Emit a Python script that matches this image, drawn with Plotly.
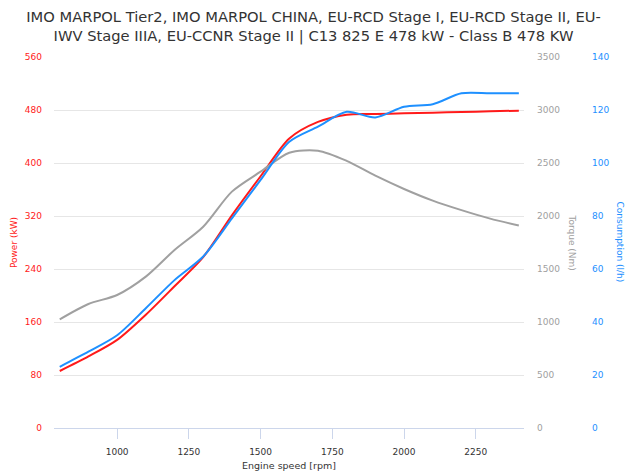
import plotly.graph_objects as go

rpm = [800, 900, 1000, 1100, 1200, 1300, 1400, 1500, 1600, 1700, 1800, 1900, 2000, 2100, 2200, 2300, 2400]
power_kw = [86, 108, 133, 171, 214, 258, 321, 380, 437, 462, 473, 474, 475, 476, 477, 478, 479]
torque_nm = [1025, 1170, 1255, 1428, 1679, 1899, 2230, 2418, 2597, 2616, 2520, 2380, 2255, 2145, 2055, 1975, 1910]
consumption_lh = [23.1, 28.8, 35.0, 45.2, 55.8, 64.7, 79.1, 93.6, 108.0, 113.7, 119.3, 117.2, 121.2, 122.2, 126.3, 126.3, 126.3]

power_ticks = [0, 80, 160, 240, 320, 400, 480, 560]
torque_ticks = [0, 500, 1000, 1500, 2000, 2500, 3000, 3500]
cons_ticks = [0, 20, 40, 60, 80, 100, 120, 140]
x_ticks = [1000, 1250, 1500, 1750, 2000, 2250]

title_text = ("IMO MARPOL Tier2, IMO MARPOL CHINA, EU-RCD Stage I, EU-RCD Stage II, EU-<br>"
              "IWV Stage IIIA, EU-CCNR Stage II | C13 825 E 478 kW - Class B 478 KW")

RED = "#ff1a1a"
BLUE = "#1e90ff"
GRAY = "#a0a0a0"
FONT = "DejaVu Sans"
FS = 9

fig = go.Figure()
fig.add_trace(go.Scatter(x=rpm, y=torque_nm, yaxis="y2", mode="lines",
                         line=dict(color=GRAY, width=2, shape="spline", smoothing=0.8),
                         name="Torque", showlegend=False))
fig.add_trace(go.Scatter(x=rpm, y=power_kw, yaxis="y", mode="lines",
                         line=dict(color=RED, width=2, shape="spline", smoothing=0.8),
                         name="Power", showlegend=False))
fig.add_trace(go.Scatter(x=rpm, y=consumption_lh, yaxis="y3", mode="lines",
                         line=dict(color=BLUE, width=2, shape="spline", smoothing=0.8),
                         name="Consumption", showlegend=False))

W, H = 627, 473
ml, mr, mt, mb = 54, 10, 57, 45
pw = W - ml - mr
x_end = (524 - ml) / pw

fig.update_layout(
    width=W, height=H,
    margin=dict(l=ml, r=mr, t=mt, b=mb, autoexpand=False),
    paper_bgcolor="white", plot_bgcolor="white",
    font=dict(family=FONT, size=FS, color="#333333"),
    title=dict(text=title_text, x=0.5, xanchor="center", xref="container",
               y=1 - 22 / H, yref="container", yanchor="top",
               font=dict(family=FONT, size=14.7, color="#333333")),
    xaxis=dict(domain=[0, x_end], range=[780, 2418], tickvals=x_ticks,
               ticks="outside", ticklen=10, tickcolor="#ccd6eb",
               showline=True, linecolor="#ccd6eb", linewidth=1,
               showgrid=False, zeroline=False, automargin=False, ticklabelstandoff=5,
               tickfont=dict(size=FS, color="#333333"),
               title=dict(text="Engine speed [rpm]", font=dict(size=FS + 0.5, color="#333333"), standoff=6)),
    yaxis=dict(range=[0, 560], tickvals=power_ticks, showgrid=True, gridcolor="#e6e6e6",
               zeroline=False, showline=False, ticks="", ticklabelstandoff=11, automargin=False,
               tickfont=dict(size=FS, color=RED),
               title=dict(text="Power (kW)", font=dict(size=FS, color=RED), standoff=5)),
    yaxis2=dict(range=[0, 3500], tickvals=torque_ticks, overlaying="y", side="right",
                anchor="x", showgrid=False, zeroline=False, showline=False, ticks="",
                automargin=False, ticklabelstandoff=12, tickfont=dict(size=FS, color=GRAY)),
    yaxis3=dict(range=[0, 140], tickvals=cons_ticks, overlaying="y", side="right",
                anchor="free", position=(583 - ml) / pw, showgrid=False, zeroline=False,
                automargin=False, showline=False, ticks="", ticklabelstandoff=8,
                tickfont=dict(size=FS, color=BLUE)),
    annotations=[
        dict(text="Torque (Nm)", textangle=90, x=(572 - ml) / pw, y=0.5, xref="paper", yref="paper",
             xanchor="center", yanchor="middle", showarrow=False, font=dict(size=FS, color=GRAY)),
        dict(text="Consumption (l/h)", textangle=90, x=(620 - ml) / pw, y=0.5, xref="paper", yref="paper",
             xanchor="center", yanchor="middle", showarrow=False, font=dict(size=FS, color=BLUE)),
    ],
)

fig.write_html("out.html", config={"displayModeBar": False},
               post_script="document.body.style.margin='0';document.body.style.padding='0';")
